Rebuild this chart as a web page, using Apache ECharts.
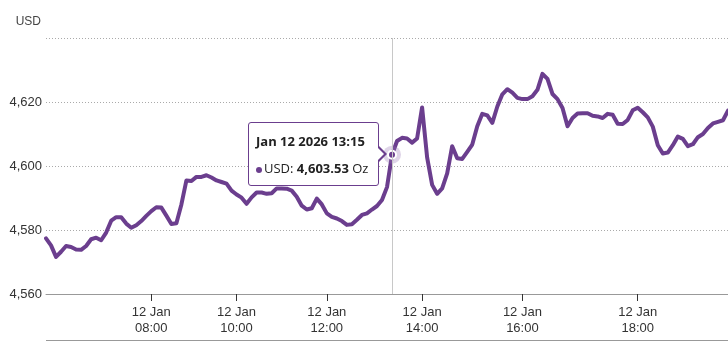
<!DOCTYPE html>
<html>
<head>
<meta charset="utf-8">
<script src="https://cdn.jsdelivr.net/npm/echarts@6/dist/echarts.min.js"></script>
<style>
  html, body { margin: 0; padding: 0; background: #fff; }
  #chart { width: 728px; height: 341px; }
  .tip-arrow, .tip-arrow-fill { position: absolute; top: 50%; width: 0; height: 0; border-style: solid; }
  .tip-arrow {
    right: -9px; margin-top: -8px;
    border-width: 8px 0 8px 8px;
    border-color: transparent transparent transparent #6b3e8e;
  }
  .tip-arrow-fill {
    right: -6px; margin-top: -6px;
    border-width: 6px 0 6px 6px;
    border-color: transparent transparent transparent #fff;
  }
</style>
</head>
<body>
<div id="chart"></div>
<script>
// Gold spot price, 12 Jan 2026 (intraday samples)
const sessionDate = '12 Jan';
const tipDate = 'Jan 12 2026';
const unitName = 'USD';
const unitSuffix = 'Oz';

const times = [
  '05:33','05:40','05:47','05:54','06:01','06:08','06:15','06:22','06:29','06:36','06:43',
  '06:50','06:57','07:04','07:11','07:18','07:25','07:32','07:39','07:46','07:53','08:00',
  '08:07','08:14','08:21','08:28','08:35','08:42','08:49','08:56','09:03','09:10','09:17',
  '09:24','09:31','09:38','09:45','09:52','10:00',
  '10:07','10:13','10:20','10:27','10:33','10:40','10:47','10:53','11:00','11:07','11:13',
  '11:20','11:27','11:33','11:40','11:47','11:53','12:00',
  '12:06','12:12','12:18','12:24','12:30','12:36','12:42','12:48','12:54','13:00','13:05',
  '13:10','13:15','13:23','13:30','13:38','13:45','13:53','14:00',
  '14:06','14:12','14:18','14:24','14:30','14:36','14:42','14:48','14:54','15:00','15:06',
  '15:12','15:18','15:24','15:30','15:36','15:42','15:48','15:54','16:00',
  '16:05','16:10','16:15','16:21','16:26','16:31','16:36','16:42','16:47','16:52','16:57',
  '17:03','17:08','17:13','17:18','17:24','17:29','17:34','17:39','17:45','17:50','17:55','18:00',
  '18:05','18:10','18:15','18:20','18:25','18:30','18:35','18:40','18:45','18:50','18:55',
  '19:00','19:05','19:10','19:15','19:20','19:25','19:30'
];

const usd = [
  4577.4, 4575.2, 4571.6, 4573.2, 4575.0, 4574.7, 4573.9, 4573.8, 4575.0, 4577.1,
  4577.6, 4576.8, 4579.2, 4582.9, 4584.0, 4584.0, 4582.0, 4580.7, 4581.5, 4582.8,
  4584.4, 4585.9, 4587.1, 4587.0, 4584.5, 4581.9, 4582.1, 4588.0, 4595.5, 4595.3,
  4596.6, 4596.6, 4597.1, 4596.4, 4595.5, 4595.0, 4594.5, 4592.3, 4591.1, 4590.1,
  4588.2, 4590.2, 4591.7, 4591.7, 4591.3, 4591.5, 4593.0, 4593.0, 4592.9, 4592.3,
  4590.4, 4587.6, 4586.4, 4586.8, 4589.8, 4588.0, 4585.2, 4584.1, 4583.6, 4582.8,
  4581.6, 4581.8, 4583.2, 4584.7, 4585.2, 4586.4, 4587.5, 4589.4, 4593.4, 4603.53,
  4607.8, 4608.8, 4608.6, 4607.3, 4608.6, 4618.3, 4602.7, 4594.1, 4591.3, 4593.0,
  4597.7, 4606.2, 4602.4, 4602.2, 4604.4, 4606.7, 4612.4, 4616.3, 4615.8, 4613.5,
  4618.6, 4622.4, 4624.0, 4622.9, 4621.3, 4620.9, 4620.9, 4621.8, 4623.8, 4628.8,
  4627.2, 4622.5, 4620.9, 4618.1, 4612.4, 4615.0, 4616.4, 4616.5, 4616.5, 4615.7,
  4615.5, 4615.0, 4616.3, 4616.0, 4613.2, 4613.1, 4614.4, 4617.4, 4618.2, 4616.8,
  4615.2, 4612.3, 4606.5, 4603.9, 4604.2, 4606.5, 4609.2, 4608.5, 4606.2, 4606.8,
  4609.0, 4610.0, 4611.9, 4613.3, 4613.8, 4614.3, 4617.3
];

const tickTimes = ['08:00', '10:00', '12:00', '14:00', '16:00', '18:00'];
const yTicks = [4560, 4580, 4600, 4620, 4640];
const focusTime = '13:15';

const purple = '#6b3e8e';
const axisFont = '"Liberation Sans", Arial, Helvetica, sans-serif';
const focusIndex = times.indexOf(focusTime);
const isTick = (i, v) => tickTimes.indexOf(v) !== -1;
const fmtNum = (v, d) => v.toLocaleString('en-US', { minimumFractionDigits: d, maximumFractionDigits: d });

const chart = echarts.init(document.getElementById('chart'), null, { renderer: 'canvas' });

chart.setOption({
  animation: false,
  grid: { left: 46, right: 0, top: 38, bottom: 47, containLabel: false },
  graphic: [{
    type: 'line',
    shape: { x1: 46, y1: 340.5, x2: 728, y2: 340.5 },
    style: { stroke: '#999', lineWidth: 1 },
    silent: true
  }],
  xAxis: {
    type: 'category',
    data: times,
    boundaryGap: false,
    axisLine: { lineStyle: { color: '#999', width: 1 } },
    axisTick: { show: true, interval: isTick, length: 7, lineStyle: { color: '#333', width: 1 } },
    axisLabel: {
      interval: isTick,
      formatter: v => sessionDate + '\n' + v,
      color: '#333',
      fontFamily: axisFont,
      fontSize: 13,
      lineHeight: 16,
      margin: 10
    },
    splitLine: { show: false }
  },
  yAxis: {
    type: 'value',
    min: yTicks[0],
    max: yTicks[yTicks.length - 1],
    interval: yTicks[1] - yTicks[0],
    name: unitName,
    nameLocation: 'end',
    nameGap: 16,
    nameTextStyle: {
      color: '#444', fontFamily: axisFont, fontSize: 12,
      align: 'right', verticalAlign: 'middle', padding: [0, 5, 0, 0]
    },
    axisLine: { show: false },
    axisTick: { show: false },
    axisLabel: {
      showMaxLabel: false,
      formatter: v => (v === yTicks[yTicks.length - 1] ? '' : fmtNum(v, 0)),
      color: '#333', fontFamily: axisFont, fontSize: 13, margin: 4
    },
    splitLine: { lineStyle: { color: '#aaa', type: [1, 2], width: 1 } }
  },
  tooltip: {
    trigger: 'axis',
    triggerOn: 'none',
    alwaysShowContent: true,
    transitionDuration: 0,
    backgroundColor: '#fff',
    borderColor: purple,
    borderWidth: 1.5,
    borderRadius: 3,
    padding: [9, 10, 8, 7],
    extraCssText: 'box-shadow:none;overflow:visible;',
    axisPointer: { type: 'line', lineStyle: { color: '#c8c8c8', width: 1, type: 'solid' }, animation: false },
    position: (point, params, dom, rect, size) =>
      [point[0] - size.contentSize[0] - 13, point[1] - size.contentSize[1] / 2 - 1],
    formatter: params => {
      const p = params.find(q => q.seriesIndex === 0) || params[0];
      const i = p.dataIndex;
      return '<div class="tip-arrow"></div><div class="tip-arrow-fill"></div>' +
        '<div style="font-family:\'Open Sans\',sans-serif;color:#222;">' +
        '<div style="font-weight:700;font-size:13px;line-height:18px;margin-bottom:9px;">' +
        tipDate + ' ' + times[i] + '</div>' +
        '<div style="font-size:13px;line-height:18px;">' +
        '<span style="display:inline-block;width:6px;height:6px;border-radius:50%;background:' + purple +
        ';vertical-align:middle;margin-right:2px;"></span>' +
        unitName + ': <b>' + fmtNum(usd[i], 2) + '</b> ' + unitSuffix + '</div></div>';
    }
  },
  series: [{
    name: unitName,
    type: 'line',
    data: usd,
    symbol: 'none',
    smooth: false,
    lineStyle: { color: purple, width: 4, join: 'round', cap: 'round' },
    emphasis: { disabled: true },
    markPoint: {
      silent: true,
      label: { show: false },
      animation: false,
      data: [
        {
          coord: [focusIndex, usd[focusIndex]], symbol: 'circle', symbolSize: 18,
          itemStyle: { color: 'rgba(150,115,180,0.30)' }
        },
        {
          coord: [focusIndex, usd[focusIndex]], symbol: 'circle', symbolSize: 8,
          itemStyle: { color: purple, borderColor: '#fff', borderWidth: 2 }
        }
      ]
    }
  }]
});

chart.dispatchAction({ type: 'showTip', seriesIndex: 0, dataIndex: focusIndex });
</script>
</body>
</html>
